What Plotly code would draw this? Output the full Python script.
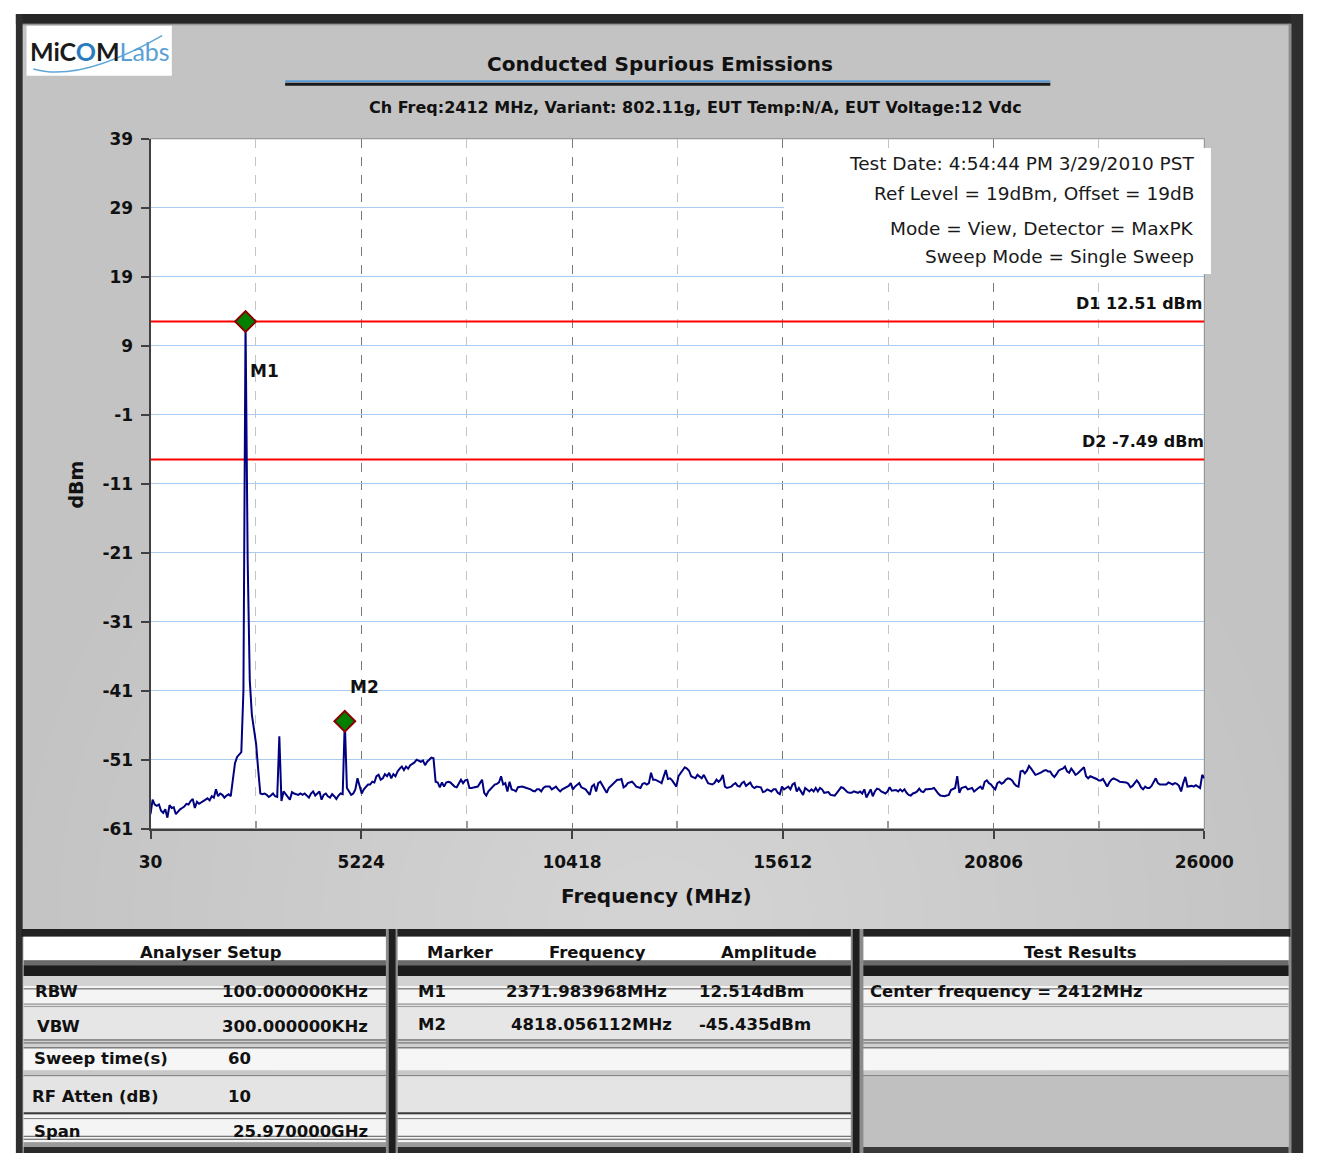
import numpy as np
import plotly.graph_objects as go

W, H = 1337, 1163
def px(x): return x / W
def py(y): return 1 - y / H

# ---------------- data ----------------
freq_start, freq_stop, n_points = 30, 26000, 500
amplitude = [
    -58.9, -56.8, -57.5, -57.7, -57.5, -58.4, -58.7, -58.2, -59.4, -57.6,
    -58.0, -57.9, -58.9, -58.5, -58.2, -58.0, -57.8, -57.4, -57.5, -57.0,
    -56.7, -58.0, -57.1, -57.4, -57.2, -57.0, -56.8, -56.6, -56.9, -56.3,
    -56.5, -55.3, -56.3, -55.9, -56.1, -56.5, -56.2, -56.0, -56.3, -53.4,
    -51.5, -50.6, -50.2, -49.9, -41.0, 12.514, -22.0, -39.5, -44.5, -46.8,
    -48.7, -52.5, -55.9, -56.0, -55.9, -56.1, -56.4, -56.2, -55.9, -56.3,
    -56.4, -47.6, -57.0, -55.6, -56.1, -56.4, -56.8, -55.7, -55.9, -56.0,
    -56.1, -55.9, -56.1, -55.9, -56.2, -56.5, -55.9, -55.6, -56.2, -55.9,
    -55.6, -56.8, -56.1, -55.9, -56.3, -56.5, -56.0, -56.3, -56.7, -56.2,
    -55.9, -56.0, -45.435, -55.1, -55.6, -56.1, -55.9, -55.3, -53.7, -54.9,
    -55.9, -55.3, -54.9, -54.6, -54.6, -54.2, -54.3, -53.4, -53.2, -53.9,
    -53.7, -53.1, -53.4, -52.9, -53.7, -53.1, -53.4, -52.7, -52.3, -52.0,
    -52.5, -52.0, -52.3, -51.8, -51.6, -51.4, -51.0, -51.2, -51.3, -51.1,
    -51.8, -51.3, -51.0, -50.7, -50.8, -54.2, -54.3, -55.0, -54.3, -54.9,
    -54.3, -54.2, -54.3, -54.6, -54.9, -55.0, -54.4, -53.9, -54.4, -54.0,
    -53.9, -55.1, -55.1, -55.0, -55.0, -54.9, -54.4, -53.9, -55.8, -56.2,
    -55.6, -55.3, -54.9, -54.6, -54.5, -54.3, -53.4, -54.6, -54.4, -55.6,
    -54.2, -55.3, -55.4, -55.6, -55.0, -54.9, -54.9, -55.0, -55.1, -55.1,
    -55.3, -55.5, -55.6, -55.3, -55.3, -55.6, -55.1, -54.9, -54.9, -54.9,
    -55.3, -55.1, -54.9, -55.3, -55.6, -55.3, -55.1, -55.0, -54.8, -54.4,
    -55.3, -54.9, -54.6, -54.4, -55.0, -55.1, -55.3, -55.7, -56.1, -54.9,
    -54.6, -55.6, -54.4, -54.2, -54.8, -55.3, -55.8, -55.1, -54.8, -54.5,
    -54.3, -53.9, -53.9, -53.8, -55.0, -54.8, -54.4, -54.3, -54.2, -54.5,
    -54.9, -55.0, -55.1, -54.5, -54.4, -54.6, -54.4, -52.9, -53.9, -53.9,
    -54.0, -54.2, -54.4, -53.4, -52.5, -53.8, -53.7, -54.0, -54.4, -54.9,
    -53.4, -52.9, -52.5, -52.1, -52.3, -52.6, -53.4, -53.5, -53.7, -53.2,
    -53.4, -53.7, -53.2, -53.7, -54.4, -54.5, -54.6, -54.4, -53.9, -54.2,
    -53.9, -53.2, -54.9, -55.1, -55.0, -54.9, -54.6, -54.4, -54.8, -54.9,
    -54.4, -54.2, -54.8, -54.6, -54.3, -54.9, -55.1, -54.9, -54.9, -55.0,
    -55.7, -55.6, -55.3, -55.4, -55.6, -55.3, -55.3, -55.8, -56.0, -54.9,
    -55.3, -55.1, -54.9, -55.3, -54.6, -54.4, -55.6, -55.1, -55.6, -56.1,
    -55.1, -55.3, -55.6, -55.3, -55.6, -55.1, -55.6, -55.1, -55.3, -55.8,
    -55.8, -55.7, -56.1, -56.2, -56.2, -55.8, -55.3, -55.0, -55.1, -55.4,
    -55.7, -55.8, -55.8, -55.6, -55.7, -55.8, -55.6, -55.9, -55.3, -56.5,
    -55.9, -55.3, -56.3, -55.6, -55.2, -55.3, -55.6, -55.8, -55.9, -55.6,
    -55.0, -55.5, -55.4, -55.4, -55.6, -55.3, -55.6, -55.3, -55.8, -56.1,
    -56.2, -55.9, -55.8, -55.6, -55.2, -55.6, -55.7, -55.3, -55.3, -55.3,
    -55.2, -55.1, -55.6, -55.9, -56.2, -56.3, -56.3, -56.2, -56.1, -55.4,
    -55.3, -55.1, -53.4, -55.8, -55.1, -55.0, -54.9, -55.3, -55.2, -55.1,
    -55.6, -55.3, -55.1, -54.9, -55.3, -54.2, -54.0, -54.4, -54.6, -55.0,
    -55.3, -54.4, -54.2, -54.5, -54.3, -53.9, -53.7, -53.8, -54.0, -54.5,
    -54.8, -54.9, -52.7, -52.6, -53.0, -52.6, -51.9, -52.3, -52.7, -53.2,
    -53.1, -53.0, -52.8, -52.6, -52.5, -52.7, -52.7, -53.2, -53.5, -53.1,
    -52.6, -52.4, -52.3, -52.0, -52.7, -52.9, -52.3, -52.7, -53.2, -53.0,
    -52.7, -52.4, -52.1, -53.4, -53.7, -53.4, -53.5, -53.7, -53.8, -54.0,
    -54.0, -53.8, -54.4, -54.9, -54.3, -53.9, -53.7, -53.8, -54.0, -54.2,
    -54.2, -54.2, -54.3, -54.5, -55.0, -54.8, -54.3, -54.0, -54.4, -55.0,
    -55.3, -54.9, -55.1, -55.1, -54.8, -54.3, -53.7, -54.4, -54.6, -54.6,
    -54.6, -54.6, -54.3, -54.4, -54.6, -54.4, -54.5, -54.8, -55.6, -54.4,
    -53.5, -54.9, -54.8, -54.8, -54.9, -54.7, -54.9, -55.1, -53.2, -53.7,
]
frequency = np.linspace(freq_start, freq_stop, n_points)

marker_names = ["M1", "M2"]
marker_freq = [2371.983968, 4818.056112]
marker_amp = [12.514, -45.435]

limit_names = ["D1", "D2"]
limit_vals = [12.51, -7.49]

x_ticks = [30, 5224, 10418, 15612, 20806, 26000]
x_minor = [2627, 7821, 13015, 18209, 23403]
y_ticks = [-61, -51, -41, -31, -21, -11, -1, 9, 19, 29, 39]

title = "Conducted Spurious Emissions"
subtitle = "Ch Freq:2412 MHz, Variant: 802.11g, EUT Temp:N/A, EUT Voltage:12 Vdc"
info_lines = ["Test Date: 4:54:44 PM 3/29/2010 PST",
              "Ref Level = 19dBm, Offset = 19dB",
              "Mode = View, Detector = MaxPK",
              "Sweep Mode = Single Sweep"]

setup_labels = ["RBW", "VBW", "Sweep time(s)", "RF Atten (dB)", "Span"]
setup_values = ["100.000000KHz", "300.000000KHz", "60", "10", "25.970000GHz"]
result_lines = ["Center frequency = 2412MHz"]

FONT = "DejaVu Sans"

# ---------------- shapes ----------------
shapes = []
def rect(x0, y0, x1, y1, fill, line=None, lw=0):
    shapes.append(dict(type="rect", xref="paper", yref="paper", layer="below",
                       x0=px(x0), x1=px(x1), y0=py(y1), y1=py(y0),
                       fillcolor=fill, line=dict(width=lw, color=line or fill)))
def hline(x0, x1, y, color, w=1, dash=None):
    d = dict(type="line", xref="paper", yref="paper", layer="below",
             x0=px(x0), x1=px(x1), y0=py(y), y1=py(y), line=dict(color=color, width=w))
    if dash: d["line"]["dash"] = dash
    shapes.append(d)
def ellipse(cx, cy, rx, ry, fill):
    shapes.append(dict(type="circle", xref="paper", yref="paper", layer="below",
                       x0=px(cx - rx), x1=px(cx + rx), y0=py(cy + ry), y1=py(cy - ry),
                       fillcolor=fill, line=dict(width=0)))

# page background with soft gradient
rect(5, 5, 1333, 1163, "#C3C3C3")
for k in range(16):
    f = 1 - k / 16
    ellipse(669, 930, 40 + 620 * f, 30 + 610 * f, "rgba(255,255,255,0.022)")
# frame
rect(4, 4, 1326, 14, "#262626")
hline(11, 1322, 15, "#8a8a8a", 1)
rect(4, 4, 11, 1163, "#2e2e2e")
rect(1320, 4, 1333, 1163, "#2e2e2e")
rect(1318, 14, 1321, 1163, "#8c8c8c")

# logo
rect(15, 16, 165, 67, "#FFFFFF")
shapes.append(dict(type="path", xref="paper", yref="paper", layer="below",
                   path=f"M {px(22)},{py(60)} Q {px(70)},{py(74)} {px(155)},{py(26)}",
                   line=dict(color="#5FA7D8", width=1.5)))

# title underline
hline(282, 1072, 72.5, "#5B9BD5", 2)
hline(282, 1072, 75.5, "#1a1a1a", 3)

# plot area
rect(143, 131, 1231, 833, "#FFFFFF", "#8a8a8a", 1)

# ---------------- tables ----------------
rect(10, 935, 1320, 943, "#222222")
panels = [(12, 387), (398, 867), (878, 1318)]
for (a, b) in panels:
    rect(a, 943, b, 967, "#FFFFFF")
    rect(a, 967, b, 972, "#6a6a6a")
    rect(a, 972, b, 983, "#1c1c1c")
    rect(a, 983, b, 993, "#d2d2d2")
    rect(a, 993, b, 1013, "#f4f4f4")
    hline(a, b, 996, "#555555", 1)
    hline(a, b, 1011.5, "#777777", 1)
    rect(a, 1013, b, 1047, "#e6e6e6")
    hline(a, b, 1014, "#9a9a9a", 1)
    rect(a, 1047, b, 1057, "#cfcfcf")
    hline(a, b, 1048, "#555555", 1)
    hline(a, b, 1051, "#666666", 1)
    hline(a, b, 1056, "#555555", 1)
    rect(a, 1057, b, 1079, "#f6f6f6")
    rect(a, 1079, b, 1085, "#c8c8c8")
    hline(a, b, 1084.5, "#666666", 1)
for (a, b) in panels[:2]:
    rect(a, 1085, b, 1123, "#e4e4e4")
    hline(a, b, 1122.5, "#3a3a3a", 2)
    rect(a, 1124, b, 1152, "#f4f4f4")
    hline(a, b, 1128, "#777777", 1)
    hline(a, b, 1146, "#555555", 1)
    hline(a, b, 1149, "#555555", 1)
    rect(a, 1152, b, 1157, "#9a9a9a")
    rect(a, 1157, b, 1163, "#2a2a2a")
rect(878, 1085, 1318, 1157, "#c0c0c0")
rect(878, 1157, 1318, 1163, "#3a3a3a")
# panel dividers
rect(386, 935, 398, 1163, "#8c8c8c")
rect(389, 935, 396, 1163, "#1e1e1e")
rect(866, 935, 879, 1163, "#8c8c8c")
rect(868, 935, 875, 1163, "#1e1e1e")

# ---------------- traces ----------------
fig = go.Figure()
for name, v in zip(limit_names, limit_vals):
    fig.add_trace(go.Scatter(x=[freq_start, freq_stop], y=[v, v], mode="lines",
                             line=dict(color="#FF0000", width=1.8), hoverinfo="skip"))
fig.add_trace(go.Scatter(x=frequency, y=amplitude, mode="lines",
                         line=dict(color="#000080", width=2)))
fig.add_trace(go.Scatter(x=marker_freq, y=marker_amp, mode="markers",
                         marker=dict(symbol="diamond", size=16, color="#008000",
                                     line=dict(color="#8B0000", width=2))))

# ---------------- annotations ----------------
ann = []
def text(x, y, s, size=17, xanchor="center", bold=True, color="#111111", family=FONT):
    ann.append(dict(x=px(x), y=py(y), xref="paper", yref="paper",
                    text=f"<b>{s}</b>" if bold else s, showarrow=False,
                    xanchor=xanchor, yanchor="middle",
                    font=dict(family=family, size=size, color=color)))

# logo text
ann.append(dict(x=px(17), y=py(42), xref="paper", yref="paper", showarrow=False,
                xanchor="left", yanchor="middle",
                text="<b>MiC</b><b><span style='color:#2b7bbf'>O</span></b><b>M</b>"
                     "<span style='color:#5a9fd4'>Labs</span>",
                font=dict(family="Lato", size=25, color="#1a1a1a")))

text(669, 55, title, 20)
text(706, 99, subtitle, 16)

# info block with white background
ann.append(dict(x=px(797), y=py(140), xref="paper", yref="paper", showarrow=False,
                xanchor="left", yanchor="top", text=" ", width=427, height=126,
                bgcolor="#FFFFFF", borderpad=0, borderwidth=0))
for s, yy in zip(info_lines, [156, 187, 222, 251]):
    text(1222, yy, s, 18.5, "right", bold=False, color="#1a1a1a")

# limit labels
for name, v, xs in zip(limit_names, limit_vals, [0, 2]):
    ann.append(dict(x=freq_stop, y=v, xref="x", yref="y", showarrow=False,
                    xanchor="right", yanchor="middle", xshift=xs, yshift=18,
                    text=f"<b>{name} {v:.2f} dBm</b>",
                    font=dict(family=FONT, size=16, color="#111111")))
# marker labels
for name, f, a, xs, ys in zip(marker_names, marker_freq, marker_amp, [19, 20], [-50, 34]):
    ann.append(dict(x=f, y=a, xref="x", yref="y", showarrow=False,
                    xanchor="center", yanchor="middle", xshift=xs, yshift=ys,
                    text=f"<b>{name}</b>", font=dict(family=FONT, size=17, color="#111111")))

# axis titles
text(665, 901, "Frequency (MHz)", 20)
ann.append(dict(x=px(66), y=py(483), xref="paper", yref="paper", showarrow=False,
                text="<b>dBm</b>", textangle=-90, xanchor="center", yanchor="middle",
                font=dict(family=FONT, size=19, color="#111111")))

# tables text
TS = 16.5
text(205, 959, "Analyser Setup", TS)
row_y = [999, 1034, 1067, 1106, 1141]
label_x = [22, 24, 21, 19, 21]
for lab, val, yy, lx in zip(setup_labels, setup_values, row_y, label_x):
    text(lx, yy, lab, TS, "left")
    if len(val) > 4:
        text(370, yy, val, TS, "right")
    else:
        text(221, yy, val, TS, "left")

text(426, 959, "Marker", TS, "left")
text(605, 959, "Frequency", TS)
text(782, 959, "Amplitude", TS)
for name, f, a, yy, fx in zip(marker_names, marker_freq, marker_amp, [999, 1032], [678, 683]):
    text(417, yy, name, TS, "left")
    text(fx, yy, f"{f:.6f}MHz", TS, "right")
    text(707, yy, f"{a:.3f}dBm", TS, "left")

text(1103, 959, "Test Results", TS)
for s, yy in zip(result_lines, [999]):
    text(884, yy, s, TS, "left")

# ---------------- layout ----------------
tickfont = dict(family=FONT, size=17, color="#111111", weight="bold")
fig.update_layout(
    width=W, height=H, margin=dict(l=0, r=0, t=0, b=0),
    paper_bgcolor="#FFFFFF", plot_bgcolor="rgba(0,0,0,0)",
    showlegend=False, shapes=shapes, annotations=ann,
    xaxis=dict(domain=[px(143), px(1231)], range=[freq_start, freq_stop],
               tickmode="array", tickvals=x_ticks, ticktext=[str(t) for t in x_ticks],
               ticks="outside", ticklen=8, tickwidth=1.5, tickcolor="#404040",
               showline=True, linecolor="#404040", linewidth=2,
               showgrid=True, gridcolor="#7a7a7a", griddash="dash", gridwidth=1.3,
               minor=dict(tickmode="array", tickvals=x_minor, ticks="inside", ticklen=8,
                          tickcolor="#9a9a9a", showgrid=True, gridcolor="#c4c4c4",
                          griddash="dash", gridwidth=1),
               zeroline=False, tickfont=tickfont, ticklabelstandoff=9, fixedrange=True),
    yaxis=dict(domain=[py(833), py(131)], range=[-61, 39],
               tickmode="array", tickvals=y_ticks, ticktext=[str(t) for t in y_ticks],
               ticks="outside", ticklen=8, tickwidth=1.5, tickcolor="#404040",
               showline=True, linecolor="#404040", linewidth=2,
               showgrid=True, gridcolor="#A9CBEF", gridwidth=1,
               zeroline=False, tickfont=tickfont, ticklabelstandoff=4, fixedrange=True),
)

page_js = ("document.documentElement.style.margin='0';"
           "document.body.style.margin='0';document.body.style.padding='0';"
           "document.body.style.overflow='hidden';")
fig.write_html("out.html", config={"displayModeBar": False}, post_script=page_js)
